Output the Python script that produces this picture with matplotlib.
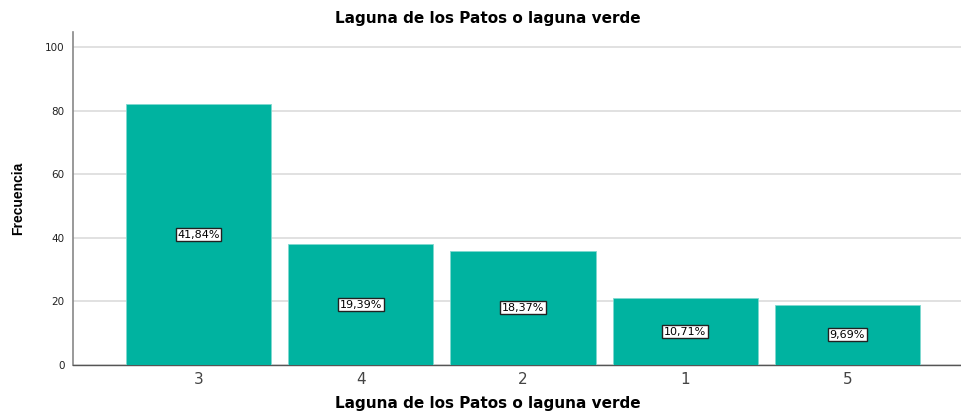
import matplotlib
matplotlib.use("Agg")
import matplotlib.pyplot as plt

plt.rcParams['font.family'] = ['DejaVu Sans']

categorias = ['3', '4', '2', '1', '5']
frecuencias = [82, 38, 36, 21, 19]
porcentajes = ['41,84%', '19,39%', '18,37%', '10,71%', '9,69%']
yticks = [0, 20, 40, 60, 80, 100]
titulo = 'Laguna de los Patos o laguna verde'

fig = plt.figure(figsize=(9.61, 4.13), dpi=100)
ax = fig.add_axes([0.076, 0.1162, 0.924, 0.8063])

pos = list(range(len(categorias)))
ax.bar(pos, frecuencias, width=0.895, color='#00b3a0', edgecolor='#7fd9cf',
       linewidth=0.6, zorder=3)

for x, f, p in zip(pos, frecuencias, porcentajes):
    ax.text(x, f / 2, p, ha='center', va='center', fontsize=8, zorder=4,
            bbox=dict(boxstyle='square,pad=0.15', fc='white', ec='#222222', lw=1.0))

ax.set_xlim(-0.773, 4.70)
ax.set_ylim(0, 104.7)
ax.set_yticks(yticks)
ax.set_xticks(pos)
ax.set_xticklabels(categorias, fontsize=11, color='#444444')
ax.tick_params(axis='y', labelsize=7.5, length=0, pad=6, colors='#222222')
ax.tick_params(axis='x', length=0, pad=5)

ax.grid(axis='y', color='#dcdcdc', linewidth=1.2, zorder=0)
for s in ['top', 'right']:
    ax.spines[s].set_visible(False)
ax.spines['left'].set_color('#888888')
ax.spines['left'].set_linewidth(1.2)
ax.spines['bottom'].set_color('#555555')
ax.spines['bottom'].set_linewidth(1.0)

fig.text(0.508, 0.955, titulo, ha='center', va='center', fontsize=11, fontweight='bold')
fig.text(0.508, 0.022, titulo, ha='center', va='center', fontsize=11, fontweight='bold')
fig.text(0.019, 0.52, 'Frecuencia', ha='center', va='center', rotation=90, fontsize=10,
         fontweight='bold', family=['Liberation Sans', 'DejaVu Sans'])

fig.savefig('out.png', dpi=100)
